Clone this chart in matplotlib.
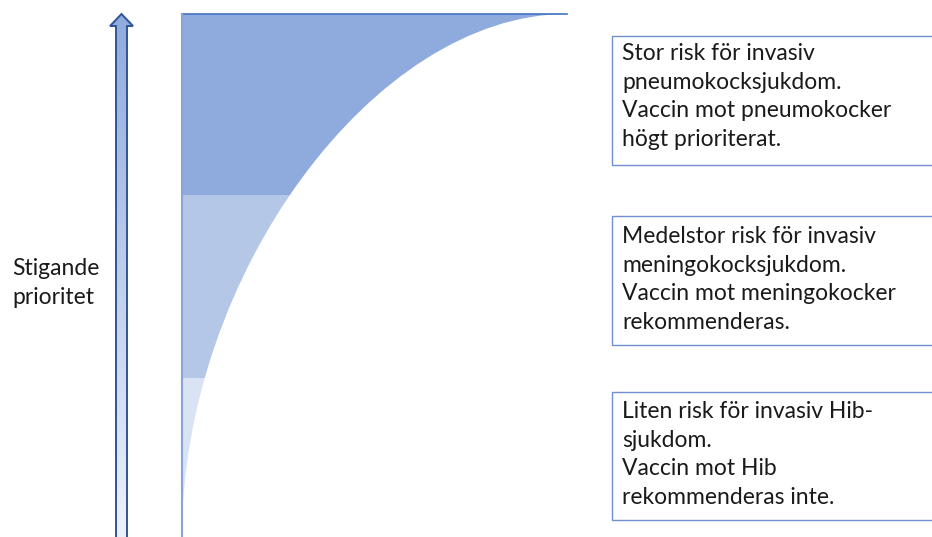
import numpy as np
import matplotlib.pyplot as plt
from matplotlib.path import Path
from matplotlib.patches import PathPatch, Rectangle, Polygon
from matplotlib.colors import LinearSegmentedColormap

plt.rcParams['font.family'] = ['Lato', 'DejaVu Sans']

# canvas in pixel units (y grows downward)
W, H = 932, 537

# curved priority shape: bezier from bottom-left to top-right
curve_start = (182, 537)
curve_end = (567, 14)
curve_k = 0.5
band_edges = [14, 195, 378, 537]
band_colors = ['#8FAADC', '#B4C7E7', '#DAE3F3']

# arrow
arrow_x = 121.5
arrow_top = 14
arrow_label = ["Stigande", "prioritet"]
label_baseline = 275

# text boxes
box_left = 612
box_tops = [36, 216, 392]
box_bottoms = [165, 345, 520]
box_texts = [
    ["Stor risk för invasiv", "pneumokocksjukdom.", "Vaccin mot pneumokocker", "högt prioriterat."],
    ["Medelstor risk för invasiv", "meningokocksjukdom.", "Vaccin mot meningokocker", "rekommenderas."],
    ["Liten risk för invasiv Hib-", "sjukdom.", "Vaccin mot Hib", "rekommenderas inte."],
]
first_baseline = [60, 243, 418]
line_step = 28.7

fig = plt.figure(figsize=(9.32, 5.37), dpi=100)
ax = fig.add_axes([0, 0, 1, 1])

# --- curved shape
x0, y0 = curve_start
x1, y1 = curve_end
verts = [(x0, y0), (x0, y0 - (y0 - y1) * curve_k), (x1 - (x1 - x0) * curve_k, y1), (x1, y1),
         (x0, y1), (x0, y0)]
codes = [Path.MOVETO, Path.CURVE4, Path.CURVE4, Path.CURVE4, Path.LINETO, Path.CLOSEPOLY]
shape = PathPatch(Path(verts, codes), facecolor='none', edgecolor='none')
ax.add_patch(shape)
for i, c in enumerate(band_colors):
    r = Rectangle((x0, band_edges[i]), x1 - x0, band_edges[i + 1] - band_edges[i],
                  facecolor=c, edgecolor='none')
    ax.add_patch(r)
    r.set_clip_path(shape)
ax.plot([x0, x1], [y1, y1], color='#4472C4', lw=1.2)
ax.plot([x0, x0], [y1, y0], color='#8AA4DA', lw=1.5)

# --- arrow with vertical gradient
hw, sw = 11.5, 5.5
head_base = arrow_top + 12
arrow_pts = [(arrow_x - sw, H + 5), (arrow_x - sw, head_base), (arrow_x - hw, head_base),
             (arrow_x, arrow_top), (arrow_x + hw, head_base), (arrow_x + sw, head_base),
             (arrow_x + sw, H + 5)]
arr = Polygon(arrow_pts, closed=True, facecolor='none', edgecolor='#2F5597', lw=1.4, zorder=3)
ax.add_patch(arr)
grad = np.linspace(0, 1, 256).reshape(-1, 1)
cm_arrow = LinearSegmentedColormap.from_list('arr', ['#8FAADC', '#EEF2FA'])
im = ax.imshow(grad, cmap=cm_arrow, aspect='auto',
               extent=[arrow_x - hw - 2, arrow_x + hw + 2, H + 5, arrow_top - 2], zorder=2)
im.set_clip_path(arr)

for j, line in enumerate(arrow_label):
    ax.text(12, label_baseline + j * line_step, line, fontsize=16.5, color='#1a1a1a',
            va='baseline')

# --- text boxes
for top, bot, lines, b0 in zip(box_tops, box_bottoms, box_texts, first_baseline):
    ax.add_patch(Rectangle((box_left, top), W + 10 - box_left, bot - top, facecolor='white',
                           edgecolor='#6F8FD0', lw=1.0))
    for j, line in enumerate(lines):
        ax.text(box_left + 10, b0 + j * line_step, line, fontsize=16.5, color='#1a1a1a',
                va='baseline')

ax.set_xlim(0, W)
ax.set_ylim(H, 0)
ax.axis('off')

fig.savefig('out.png', dpi=100)
